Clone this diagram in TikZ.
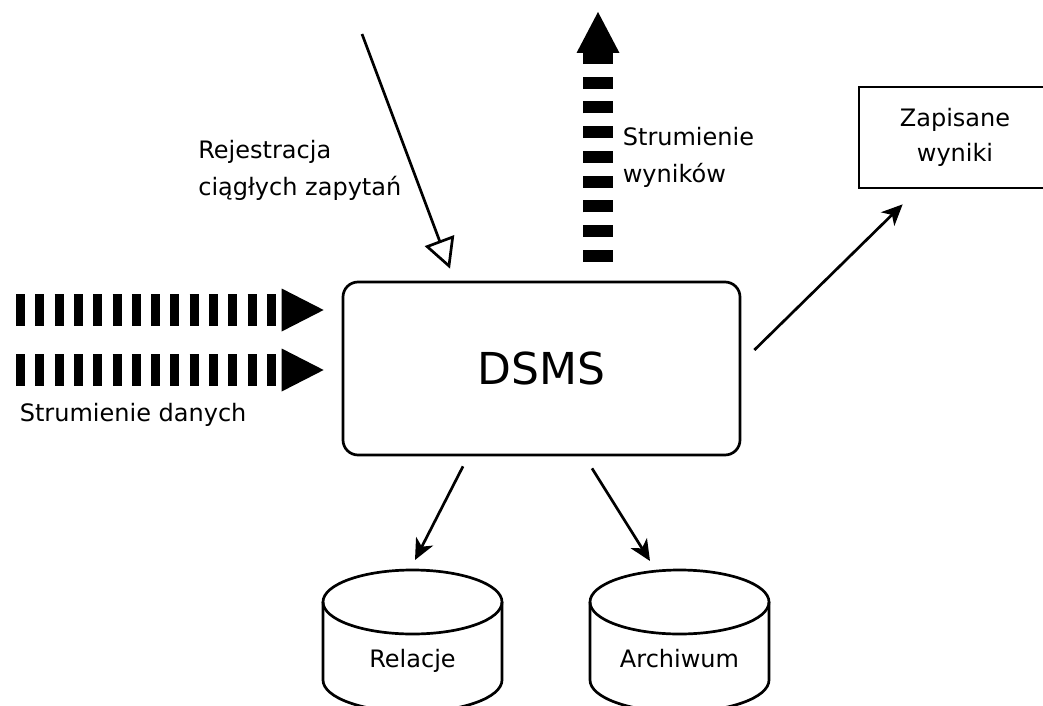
\documentclass[tikz,border=0pt]{standalone}
\usepackage{fontspec}
\setmainfont{DejaVu Sans}
\usetikzlibrary{calc, arrows.meta}

\begin{document}
\begin{tikzpicture}[x=1pt, y=-1pt,
    line width=2.7pt,
    label/.style={inner sep=0pt, align=left, anchor=base west, font=\fontsize{24}{37}\selectfont},
    flow/.style={-{Stealth[length=21pt, width=19pt, inset=6pt]}},
    register/.style={-{Triangle[open, length=30pt, width=31pt]}},
    stream/.style={line width=32pt, dash pattern=on 9pt off 10.3pt,
        -{Triangle[length=42pt, width=43pt, line width=0pt]}},
    result/.style={line width=30pt, dash pattern=on 12pt off 12.7pt,
        -{Triangle[length=41pt, width=43pt, line width=0pt]}},
    store/.style={draw, line width=2.7pt}]

\useasboundingbox (0,0) rectangle (1043,706);

% --- MACRO: DRAW STORE (CYLINDER) ---
% #1: Name of the top point
% #2: Centre x
% #3: Label text
\newcommand{\drawStore}[3]{
    \draw[store] (#2,602) ellipse [x radius=89.5pt, y radius=32pt];
    \draw[store] (#2-89.5,602) -- (#2-89.5,680)
        arc [start angle=180, end angle=360, x radius=89.5pt, y radius=32pt]
        -- (#2+89.5,602);
    \coordinate (#1) at (#2,570);
    \node[label, anchor=base] (#1Label) at (#2,667) {#3};
}

% --- MAIN BOXES ---
\node[draw, rounded corners=15pt, minimum width=397pt, minimum height=173pt,
    font=\fontsize{44}{53}\selectfont] (dsms) at (541.5,368.5) {DSMS};
\node[draw, minimum width=192pt, minimum height=101pt, align=center,
    font=\fontsize{24}{35}\selectfont] (saved) at (955,137.5) {Zapisane\\wyniki};

% --- STORES ---
\drawStore{rel}{412.5}{Relacje}
\drawStore{arch}{679.5}{Archiwum}

% --- FREE ENDS ---
\coordinate (queryIn) at (362,34);
\coordinate (resultOut) at (598,12);
\coordinate (dataInA) at (16,310);
\coordinate (dataInB) at (16,370);

% --- CONNECTORS ---
\draw[stream] (dataInA) -- ([xshift=-18pt, yshift=58.5pt]dsms.west);
\draw[stream] (dataInB) -- ([xshift=-18pt, yshift=-1.5pt]dsms.west);
\draw[result] ([xshift=56.5pt, yshift=19pt]dsms.north) -- (resultOut);
\draw[register] (queryIn) -- ([xshift=-91.5pt, yshift=12pt]dsms.north);
\draw[flow] ([xshift=13pt, yshift=18.5pt]dsms.east) -- ([xshift=45pt, yshift=-15pt]saved.south west);
\draw[flow] ([xshift=-78.5pt, yshift=-10pt]dsms.south) -- ([xshift=2.5pt, yshift=10pt]rel);
\draw[flow] ([xshift=50.5pt, yshift=-12pt]dsms.south) -- ([xshift=-29.5pt, yshift=9pt]arch);

% --- LABELS ---
% multi-line labels sit on their last line
\node[label] (queryLabel) at (197,195) {Rejestracja\\ciągłych zapytań};
\node[label] (resultLabel) at (621.5,182) {Strumienie\\wyników};
\node[label] (dataLabel) at (18.5,421) {Strumienie danych};

\end{tikzpicture}
\end{document}
